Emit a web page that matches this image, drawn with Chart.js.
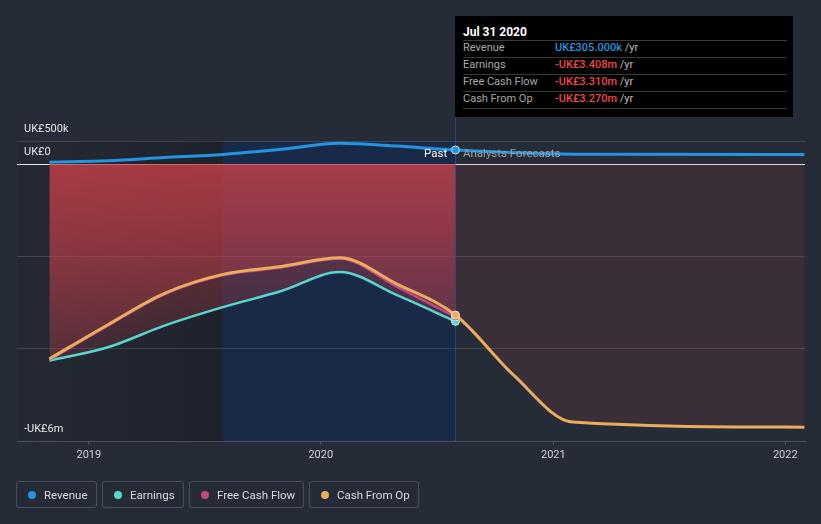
<!DOCTYPE html>
<html>
<head>
<meta charset="utf-8">
<script src="https://cdn.jsdelivr.net/npm/chart.js@4.4.1/dist/chart.umd.min.js"></script>
<style>
  html, body { margin: 0; padding: 0; background: #262c37; }
  body { font-family: Roboto, "Noto Sans", sans-serif; }
  #wrap { position: relative; width: 821px; height: 524px; overflow: hidden; }
  #chart { position: absolute; left: 0; top: 0; }
  .tip { position: absolute; left: 455px; top: 16px; width: 338px; height: 101px; background: #000; color: #a9a9a9; font-size: 11px; }
  .tip div { position: absolute; white-space: nowrap; line-height: 14px; }
  .tip .title { left: 8px; top: 9px; color: #fff; font-weight: bold; font-size: 12px; }
  .tip .sep { left: 8px; width: 324px; height: 1px; background: #3a3a3a; }
  .tip .val { left: 100px; font-weight: 500; }
  .tip .unit { color: #bdbdbd; font-weight: normal; }
  .mark { position: absolute; top: 146px; font-size: 11.5px; line-height: 14px; white-space: nowrap; }
  #legend { position: absolute; left: 16px; top: 481px; display: flex; gap: 5px; }
  .item { box-sizing: border-box; height: 27px; border: 1px solid #4a505b; border-radius: 3px; display: flex; align-items: center; padding: 0 0 0 11px; color: #d9dbde; font-size: 11.5px; white-space: nowrap; }
  .dot { width: 8px; height: 8px; border-radius: 50%; margin-right: 8px; flex: none; }
</style>
</head>
<body>
<div id="wrap">
  <canvas id="chart" width="821" height="524"></canvas>
  <div class="mark" style="left:424px;color:#fff;">Past</div>
  <div class="mark" style="left:463px;color:#9ba1a9;">Analysts Forecasts</div>
  <div class="tip" id="tip"></div>
  <div id="legend"></div>
</div>
<script>
// values in UK£ millions
const pastDates = ['2018-10-31', '2019-01-31', '2019-04-30', '2019-07-31', '2019-10-31', '2020-01-31', '2020-04-30', '2020-07-31'];
const revenuePast = [0.04, 0.07, 0.14, 0.21, 0.32, 0.45, 0.39, 0.305];
const earningsPast = [-4.26, -3.97, -3.50, -3.10, -2.75, -2.34, -2.84, -3.408];
const fcfPast = [-4.24, -3.50, -2.82, -2.41, -2.24, -2.05, -2.66, -3.31];
const cashOpPast = [-4.22, -3.48, -2.80, -2.39, -2.22, -2.03, -2.60, -3.27];

const revenueForecastDates = ['2021-01-31', '2022-01-31'];
const revenueForecast = [0.215, 0.21];
const cashForecastDates = ['2020-10-31', '2021-01-31', '2022-01-31'];
const cashOpForecast = [-4.58, -5.59, -5.70];
const fcfForecast = [-4.58, -5.59, -5.70];

const yTickValues = [0.5, 0, -2, -4, -6];
const yTickLabels = ['UK£500k', 'UK£0', '', '', '-UK£6m'];
const yearTicks = [2019, 2020, 2021, 2022];

const seriesNames = ['Revenue', 'Earnings', 'Free Cash Flow', 'Cash From Op'];
const seriesColors = ['#2394df', '#58d8cc', '#c44682', '#e9ad5c'];
const legendWidths = [81, 82, 115, 110];
const tipTitle = 'Jul 31 2020';
const tipValues = ['UK£305.000k', '-UK£3.408m', '-UK£3.310m', '-UK£3.270m'];
const tipColors = ['#2394df', '#f0474a', '#f0474a', '#f0474a'];

const highlightStart = '2019-07-31';
const pastEnd = pastDates[pastDates.length - 1];

const day = s => Date.parse(s);
const pts = (dates, vals) => dates.map((d, i) => ({ x: day(d), y: vals[i] }));
const lastPast = pastDates.length - 1;
const markAt = idx => ctx => ctx.dataIndex === idx ? 4 : 0;

function redFill(ctx) {
  const chart = ctx.chart;
  const a = chart.chartArea;
  if (!a) return 'rgba(207,65,74,0.3)';
  const y0 = chart.scales.y.getPixelForValue(0);
  const g = chart.ctx.createLinearGradient(0, y0, 0, a.bottom);
  g.addColorStop(0, 'rgba(207,65,74,0.52)');
  g.addColorStop(1, 'rgba(207,65,74,0.0)');
  return g;
}

function lineSet(label, data, color, width, radiusIdx, extra) {
  return Object.assign({
    label, data,
    borderColor: color,
    borderWidth: width,
    pointRadius: markAt(radiusIdx),
    pointBackgroundColor: color,
    pointBorderColor: 'rgba(235,240,245,0.85)',
    pointBorderWidth: 1,
    cubicInterpolationMode: 'monotone',
    fill: false
  }, extra || {});
}

const regions = {
  id: 'regions',
  beforeDraw(chart) {
    const { ctx, chartArea: a, scales: { x } } = chart;
    const x0 = x.getPixelForValue(day(highlightStart));
    const x1 = x.getPixelForValue(day(pastEnd));
    ctx.save();
    const g = ctx.createLinearGradient(a.left, 0, x0, 0);
    g.addColorStop(0, 'rgba(14,16,22,0.05)');
    g.addColorStop(1, 'rgba(14,16,22,0.33)');
    ctx.fillStyle = g;
    ctx.fillRect(a.left, a.top, x0 - a.left, a.bottom - a.top);
    ctx.fillStyle = '#182a47';
    ctx.fillRect(x0, a.top, x1 - x0, a.bottom - a.top);
    ctx.restore();
  },
  beforeDatasetsDraw(chart) {
    const { ctx, chartArea: a, scales: { x } } = chart;
    const x1 = Math.round(x.getPixelForValue(day(pastEnd))) + 0.5;
    ctx.save();
    ctx.strokeStyle = 'rgba(55,95,160,0.55)';
    ctx.lineWidth = 1;
    ctx.beginPath();
    ctx.moveTo(x1, 16);
    ctx.lineTo(x1, a.bottom);
    ctx.stroke();
    ctx.restore();
  }
};

const revenueData = pts(pastDates, revenuePast).concat(pts(revenueForecastDates, revenueForecast));
const cashData = pts(pastDates, cashOpPast).concat(pts(cashForecastDates, cashOpForecast));
const fcfFcData = [{ x: day(pastEnd), y: cashOpPast[lastPast] }].concat(pts(cashForecastDates, fcfForecast));

new Chart(document.getElementById('chart'), {
  type: 'line',
  data: {
    datasets: [
      lineSet('Revenue', revenueData, seriesColors[0], 3, lastPast),
      lineSet('Cash From Op', cashData, seriesColors[3], 3, lastPast),
      lineSet('Free Cash Flow', pts(pastDates, fcfPast), seriesColors[2], 2.5, lastPast,
        { fill: 'origin', backgroundColor: redFill }),
      lineSet('Free Cash Flow forecast', fcfFcData, 'rgba(0,0,0,0)', 0, -1,
        { fill: 'origin', backgroundColor: 'rgba(207,65,74,0.12)' }),
      lineSet('Earnings', pts(pastDates, earningsPast), seriesColors[1], 2.5, lastPast,
        { fill: 'origin', backgroundColor: redFill })
    ]
  },
  options: {
    responsive: false,
    animation: false,
    layout: { padding: { left: 17, right: 16, top: 141, bottom: 53 } },
    plugins: {
      legend: { display: false },
      tooltip: { enabled: false },
      filler: { drawTime: 'beforeDatasetsDraw' }
    },
    scales: {
      x: {
        type: 'linear',
        min: Date.UTC(2018, 8, 10),
        max: Date.UTC(2022, 1, 1),
        afterBuildTicks: s => { s.ticks = yearTicks.map(yr => ({ value: Date.UTC(yr, 0, 1) })); },
        afterFit: s => { s.height = 30; },
        ticks: {
          autoSkip: false,
          maxRotation: 0,
          padding: 4,
          color: '#d0d3d7',
          font: { family: 'Roboto', size: 11 },
          callback: v => String(new Date(v).getUTCFullYear())
        },
        grid: { drawOnChartArea: false, drawTicks: true, tickLength: 4, color: '#4b515c' },
        border: { display: true, color: '#4b515c' }
      },
      y: {
        min: -6,
        max: 0.5,
        position: 'left',
        afterBuildTicks: s => { s.ticks = yTickValues.map(v => ({ value: v })); },
        afterFit: s => { s.width = 0; },
        ticks: {
          mirror: true,
          padding: 7,
          labelOffset: -12,
          color: '#e4e6e8',
          font: { family: 'Roboto', size: 11 },
          callback: v => yTickLabels[yTickValues.indexOf(v)]
        },
        grid: {
          drawTicks: false,
          color: c => c.tick && c.tick.value === 0 ? '#e8e8e8' : (c.tick && c.tick.value === -6 ? '#4b515c' : 'rgba(255,255,255,0.13)')
        },
        border: { display: false }
      }
    }
  },
  plugins: [regions]
});

// tooltip box
const tip = document.getElementById('tip');
let html = '<div class="title">' + tipTitle + '</div>';
[24, 41, 58, 75, 92].forEach(t => { html += '<div class="sep" style="top:' + t + 'px"></div>'; });
seriesNames.forEach((name, i) => {
  const top = 25 + i * 17;
  html += '<div style="left:8px;top:' + top + 'px">' + name + '</div>';
  html += '<div class="val" style="top:' + top + 'px;color:' + tipColors[i] + '">' + tipValues[i] +
    ' <span class="unit">/yr</span></div>';
});
tip.innerHTML = html;

// legend
const legend = document.getElementById('legend');
seriesNames.forEach((name, i) => {
  const el = document.createElement('div');
  el.className = 'item';
  el.style.width = legendWidths[i] + 'px';
  el.innerHTML = '<span class="dot" style="background:' + seriesColors[i] + '"></span>' + name;
  legend.appendChild(el);
});
</script>
</body>
</html>
